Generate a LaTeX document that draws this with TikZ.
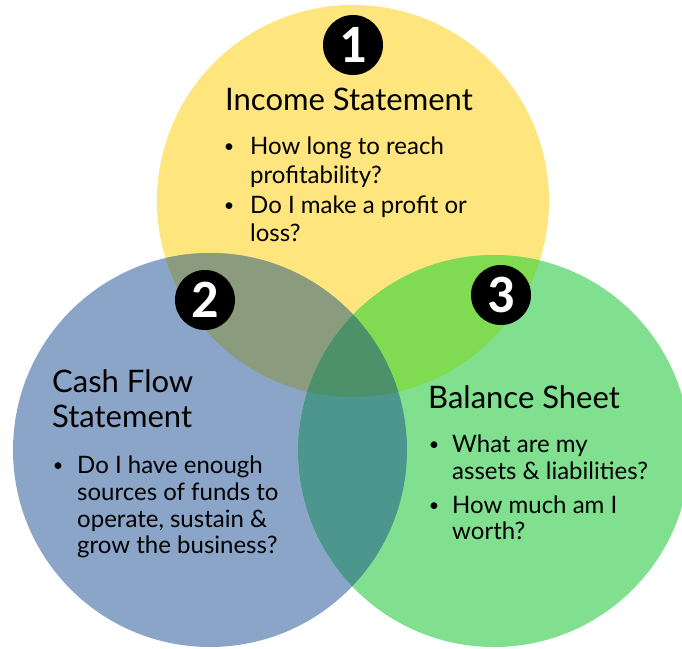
\documentclass[tikz,border=0pt]{standalone}
\usepackage{fontspec}
\setmainfont{Lato}
\newfontfamily\badgefont{Carlito}
\definecolor{yel}{HTML}{FEE57E}
\definecolor{blu}{HTML}{8AA5C8}
\definecolor{grn}{HTML}{80E08F}
\definecolor{yb}{HTML}{8A9B7E}
\definecolor{yg}{HTML}{80DA52}
\definecolor{bg}{HTML}{4D968E}
\definecolor{ybg}{HTML}{4D916B}
\tikzset{
  title/.style={anchor=base west, inner sep=0pt, font=\fontsize{31}{33}\selectfont},
  line/.style={anchor=base west, inner sep=0pt, font=\fontsize{24}{26}\selectfont},
  bul/.style={anchor=base, inner sep=0pt, font=\fontsize{18}{20}\selectfont},
  badge/.style={circle, fill=black, minimum size=60pt, inner sep=0pt, text=white, font=\badgefont\bfseries\fontsize{54}{54}\selectfont}
}
\begin{document}
\begin{tikzpicture}[x=1pt,y=-1pt]
\useasboundingbox (0,0) rectangle (682,648);
\clip (0,0) rectangle (682,648);
\def\Yc{(353,201) circle[radius=196pt]}
\def\Bc{(210,450) circle[radius=197pt]}
\def\Gc{(494,451) circle[radius=196pt]}
\fill[yel] \Yc;
\fill[blu] \Bc;
\fill[grn] \Gc;
\begin{scope}
  \clip \Yc;
  \fill[yb] \Bc;
  \fill[yg] \Gc;
\end{scope}
\begin{scope}
  \clip \Bc;
  \fill[bg] \Gc;
  \clip \Gc;
  \fill[ybg] \Yc;
\end{scope}
% badges
\node[badge] (b1) at (353,45) {1};
\node[badge] (b2) at (205,300) {2};
\node[badge] (b3) at (501,295) {3};
% income statement
\node[title] (t1) at (225,110) {Income Statement};
\node[bul] (p1a) at (229,152) {•};
\node[line] (l1a) at (250,154) {How long to reach};
\node[line] (l1b) at (250,183) {profitability?};
\node[bul] (p1b) at (229,211) {•};
\node[line] (l1c) at (250,213) {Do I make a profit or};
\node[line] (l1d) at (250,241) {loss?};
% cash flow
\node[title] (t2a) at (52,392) {Cash Flow};
\node[title] (t2b) at (52,427) {Statement};
\node[bul] (p2a) at (58,471) {•};
\node[line] (l2a) at (77,473) {Do I have enough};
\node[line] (l2b) at (77,500) {sources of funds to};
\node[line] (l2c) at (77,527) {operate, sustain \&};
\node[line] (l2d) at (77,553) {grow the business?};
% balance sheet
\node[title] (t3) at (428,408) {Balance Sheet};
\node[bul] (p3a) at (434,450) {•};
\node[line] (l3a) at (452,452) {What are my};
\node[line] (l3b) at (452,479) {assets \& liabilities?};
\node[bul] (p3b) at (434,511) {•};
\node[line] (l3c) at (452,513) {How much am I};
\node[line] (l3d) at (452,539) {worth?};
\end{tikzpicture}
\end{document}
